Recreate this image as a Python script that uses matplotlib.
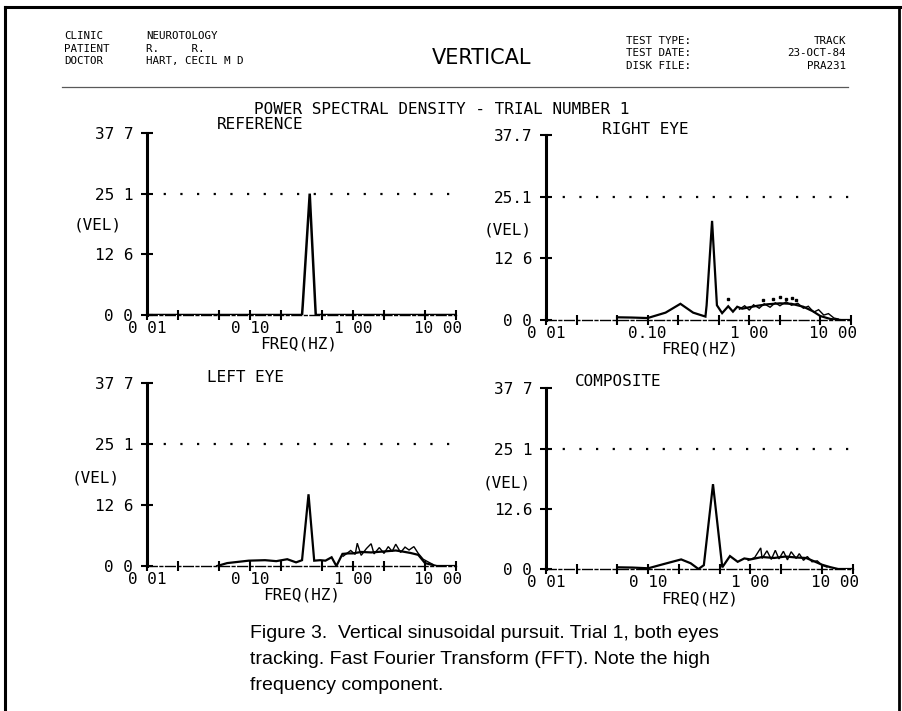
import matplotlib
matplotlib.use("Agg")
import matplotlib.pyplot as plt
from matplotlib.ticker import FixedLocator, NullFormatter
from matplotlib.transforms import ScaledTranslation
from matplotlib.lines import Line2D

# --- values (freq in Hz, power in VEL units) ---
y_ticks = [0, 12.6, 25.1, 37.7]
x_major = [0.01, 0.1, 1, 10]
x_minor = [0.02, 0.05, 0.2, 0.5, 2, 5]
ref_level = 25.1

ref_freq = [0.01, 0.32, 0.325, 0.38, 0.43, 0.435, 10.0]
ref_val = [0.0, 0.0, 2.0, 25.1, 2.0, 0.0, 0.0]

right_freq = [0.05, 0.07, 0.10, 0.15, 0.21, 0.28, 0.37, 0.38, 0.43, 0.48, 0.54, 0.62,
              0.69, 0.76, 0.85, 1.0, 1.2, 1.5, 2.0, 2.6, 3.4, 4.2, 5.0, 6.3, 8.0, 10.0]
right_val = [0.55, 0.5, 0.4, 1.5, 3.3, 1.5, 0.7, 3.0, 20.2, 3.0, 1.4, 2.8,
             1.7, 2.7, 2.3, 2.6, 2.9, 3.2, 3.4, 3.3, 2.7, 1.8, 0.8, 0.2, 0.0, 0.0]
right_freq2 = [0.8, 0.9, 1.0, 1.1, 1.25, 1.4, 1.6, 1.8, 2.0, 2.3, 2.6, 3.0, 3.4, 3.8,
               4.3, 4.8, 5.4, 6.0, 6.8, 7.5]
right_val2 = [2.2, 2.9, 2.0, 3.1, 2.4, 3.3, 2.6, 3.5, 2.9, 3.7, 3.0, 3.4, 2.4, 2.8,
              1.6, 2.1, 1.0, 1.3, 0.4, 0.2]
right_dot_freq = [0.62, 1.35, 1.7, 2.0, 2.3, 2.6, 2.9]
right_dot_val = [4.3, 4.0, 4.2, 4.6, 4.3, 4.5, 4.1]

left_freq = [0.048, 0.06, 0.097, 0.14, 0.18, 0.23, 0.28, 0.32, 0.37, 0.42, 0.48, 0.54,
             0.62, 0.69, 0.79, 0.9, 1.0, 1.2, 1.5, 2.0, 2.6, 3.0, 3.6, 4.3, 5.0, 6.5, 10.0]
left_val = [0.0, 0.6, 1.1, 1.2, 1.0, 1.4, 0.75, 1.2, 14.8, 1.1, 1.2, 1.1,
            1.8, 0.0, 2.5, 2.6, 2.6, 2.9, 2.8, 3.0, 3.2, 3.0, 2.7, 2.3, 0.6, 0.0, 0.0]
left_freq2 = [0.8, 0.95, 1.05, 1.1, 1.2, 1.35, 1.5, 1.6, 1.8, 2.0, 2.2, 2.4, 2.6, 2.9,
              3.2, 3.5, 3.9, 4.3, 4.8, 5.3, 6.0]
left_val2 = [2.0, 3.2, 2.4, 4.7, 2.2, 3.6, 4.6, 2.5, 3.8, 2.6, 4.0, 3.0, 4.5, 2.8,
             3.9, 3.3, 4.0, 2.6, 1.4, 0.9, 0.3]

comp_freq = [0.051, 0.07, 0.10, 0.14, 0.21, 0.26, 0.31, 0.35, 0.43, 0.53, 0.63, 0.75,
             0.87, 1.0, 1.3, 1.7, 2.2, 2.8, 3.5, 4.2, 5.0, 6.0, 7.2, 10.0]
comp_val = [0.35, 0.3, 0.15, 1.0, 2.0, 1.2, 0.0, 0.8, 17.7, 0.35, 2.7, 1.5,
            2.2, 2.0, 2.5, 2.3, 2.6, 2.4, 2.3, 1.6, 0.9, 0.4, 0.0, 0.0]
comp_freq2 = [0.95, 1.1, 1.26, 1.3, 1.45, 1.6, 1.75, 1.9, 2.1, 2.3, 2.5, 2.8, 3.0, 3.3,
              3.6, 4.0, 4.5, 5.0, 5.6]
comp_val2 = [1.8, 2.4, 4.4, 2.2, 3.8, 2.0, 3.9, 2.1, 3.7, 1.9, 3.6, 2.2, 3.2, 1.8,
             2.6, 1.5, 1.7, 0.8, 0.4]

W, H = 903, 711
MONO = "DejaVu Sans Mono"

fig = plt.figure(figsize=(W / 100, H / 100), dpi=100)
fig.patch.set_facecolor("white")


def fx(x):
    return x / W


def fy(y):
    return 1 - y / H


# page frame and header rule
fig.add_artist(Line2D([fx(5), fx(5)], [fy(7), fy(711)], color="k", lw=2.2))
fig.add_artist(Line2D([fx(5), fx(903)], [fy(7), fy(7)], color="k", lw=2.2))
fig.add_artist(Line2D([fx(899), fx(899)], [fy(7), fy(711)], color="k", lw=2.0))
fig.add_artist(Line2D([fx(62), fx(848)], [fy(87), fy(87)], color="0.35", lw=0.9))

# header block
hdr = dict(family=MONO, fontsize=7.8, va="center")
fig.text(fx(64), fy(36), "CLINIC", **hdr)
fig.text(fx(64), fy(48.5), "PATIENT", **hdr)
fig.text(fx(64), fy(61), "DOCTOR", **hdr)
fig.text(fx(146), fy(36), "NEUROTOLOGY", **hdr)
fig.text(fx(146), fy(48.5), "R.     R.", **hdr)
fig.text(fx(146), fy(61), "HART, CECIL M D", **hdr)
fig.text(fx(432), fy(58), "VERTICAL", family="DejaVu Sans", fontsize=15, va="center")
fig.text(fx(626), fy(41), "TEST TYPE:", **hdr)
fig.text(fx(626), fy(53.5), "TEST DATE:", **hdr)
fig.text(fx(626), fy(66), "DISK FILE:", **hdr)
fig.text(fx(846), fy(41), "TRACK", ha="right", **hdr)
fig.text(fx(846), fy(53.5), "23-OCT-84", ha="right", **hdr)
fig.text(fx(846), fy(66), "PRA231", ha="right", **hdr)
fig.text(fx(442), fy(109), "POWER SPECTRAL DENSITY - TRIAL NUMBER 1", family=MONO,
         fontsize=11.5, ha="center", va="center")

panels = [
    dict(box=(147, 456, 132.7, 315), title="REFERENCE", tpos=(0.227, 7.7),
         vel=(-25, 18.6), xl=0.49,
         ylabels=["0 0", "12 6", "25 1", "37 7"], xlabels=["0 01", "0 10", "1 00", "10 00"],
         lines=[(ref_freq, ref_val, 1.8)], dots=None),
    dict(box=(546, 851, 135, 320), title="RIGHT EYE", tpos=(0.184, 5),
         vel=(-14, 18.4), xl=0.505,
         ylabels=["0 0", "12 6", "25.1", "37.7"], xlabels=["0 01", "0.10", "1 00", "10 00"],
         lines=[(right_freq, right_val, 1.6), (right_freq2, right_val2, 1.0)],
         dots=(right_dot_freq, right_dot_val)),
    dict(box=(147, 456, 383.3, 566), title="LEFT EYE", tpos=(0.194, 5.3),
         vel=(-27, 18.1), xl=0.50,
         ylabels=["0 0", "12 6", "25 1", "37 7"], xlabels=["0 01", "0 10", "1 00", "10 00"],
         lines=[(left_freq, left_val, 1.6), (left_freq2, left_val2, 1.0)], dots=None),
    dict(box=(546, 852.7, 388.3, 569), title="COMPOSITE", tpos=(0.095, 6.3),
         vel=(-15, 18.0), xl=0.502,
         ylabels=["0 0", "12.6", "25 1", "37 7"], xlabels=["0 01", "0 10", "1 00", "10 00"],
         lines=[(comp_freq, comp_val, 1.6), (comp_freq2, comp_val2, 1.0)], dots=None),
]

for p in panels:
    x0, x1, ytop, yzero = p["box"]
    w_px, h_px = x1 - x0, yzero - ytop
    ax = fig.add_axes([fx(x0), fy(yzero), w_px / W, h_px / H])
    ax.set_facecolor("none")
    ax.set_xscale("log")
    ax.set_xlim(0.01, 10)
    ax.set_ylim(0, 37.7)
    for s in ["top", "right"]:
        ax.spines[s].set_visible(False)
    ax.spines["left"].set_linewidth(2.2)
    ax.spines["bottom"].set_linewidth(1.0)
    ax.spines["bottom"].set_linestyle((0, (7, 2, 2, 2)))

    ax.set_yticks(y_ticks)
    ax.set_yticklabels(p["ylabels"], family=MONO, fontsize=11.5)
    ax.tick_params(axis="y", direction="inout", length=8, width=1.5, pad=6)

    ax.xaxis.set_major_locator(FixedLocator(x_major))
    ax.set_xticklabels(p["xlabels"], family=MONO, fontsize=11.5)
    ax.xaxis.set_minor_locator(FixedLocator(x_minor))
    ax.xaxis.set_minor_formatter(NullFormatter())
    ax.tick_params(axis="x", which="both", direction="inout", length=7, width=1.5, pad=1)
    last = ax.get_xticklabels()[-1]
    last.set_transform(last.get_transform() + ScaledTranslation(-0.18, 0, fig.dpi_scale_trans))

    ax.axhline(ref_level, color="k", lw=1.6, ls=(0, (1, 6.5)))

    for f, v, lw in p["lines"]:
        ax.plot(f, v, color="k", lw=lw, solid_joinstyle="miter")
    if p["dots"] is not None:
        ax.plot(p["dots"][0], p["dots"][1], ls="none", marker="s", ms=2, color="k")

    tx, toff = p["tpos"]
    ax.text(tx, 1 + toff / h_px, p["title"], transform=ax.transAxes, family=MONO,
            fontsize=11.5, va="center", ha="left")
    vx, vy = p["vel"]
    ax.text(vx / w_px, vy, "(VEL)", transform=ax.get_yaxis_transform(), family=MONO,
            fontsize=11.5, va="center", ha="right")
    ax.set_xlabel("FREQ(HZ)", family=MONO, fontsize=11.5)
    ax.xaxis.set_label_coords(p["xl"], -22 / h_px)

cap = dict(family=["Liberation Sans Narrow", "Liberation Sans"], fontsize=14, va="center")
fig.text(fx(250), fy(634), "Figure 3.  Vertical sinusoidal pursuit. Trial 1, both eyes", **cap)
fig.text(fx(250), fy(660), "tracking. Fast Fourier Transform (FFT). Note the high", **cap)
fig.text(fx(250), fy(686), "frequency component.", **cap)

fig.savefig("out.png", dpi=100, facecolor="white")
